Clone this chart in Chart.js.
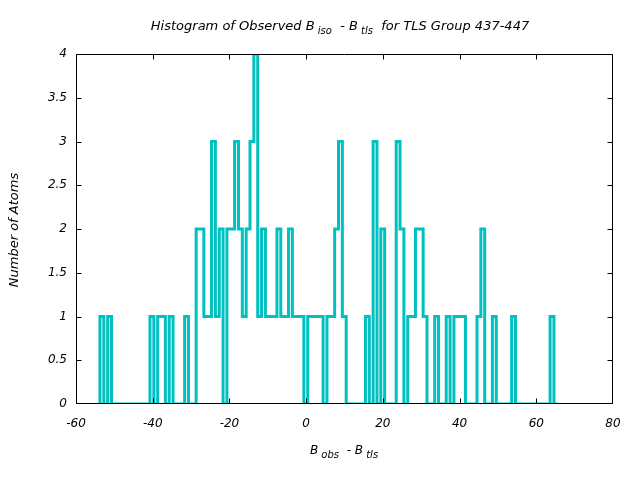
<!DOCTYPE html>
<html>
<head>
<meta charset="utf-8">
<script src="https://cdn.jsdelivr.net/npm/chart.js@4.4.0/dist/chart.umd.min.js"></script>
<style>
  html, body { margin: 0; padding: 0; background: #fff; }
  #wrap { width: 640px; height: 480px; }
</style>
</head>
<body>
<div id="wrap"><canvas id="histChart" width="640" height="480"></canvas></div>
<script>
// histogram of B_iso - B_tls, one count per bin
var binStart = -53.75;
var binWidth = 1.003;
var counts = [
  1,0,1,0,0,0,0,0,0,0,0,0,0,
  1,0,1,1,0,1,0,0,0,1,0,0,
  2,2,1,1,3,1,2,0,2,2,3,2,1,2,3,4,
  1,2,1,1,1,2,1,1,2,1,1,1,
  0,1,1,1,1,0,1,1,2,3,1,
  0,0,0,0,0,1,0,3,0,2,
  0,0,0,3,2,0,1,1,2,2,1,
  0,0,1,0,0,1,0,1,1,1,0,0,0,
  1,2,0,0,1,0,0,0,0,1,
  0,0,0,0,0,0,0,0,0,1,0
];
var xTicks = [-60, -40, -20, 0, 20, 40, 60, 80];
var yTicks = [0, 0.5, 1, 1.5, 2, 2.5, 3, 3.5, 4];

var titleParts = [['Histogram of Observed B', 0], [' iso', 1], ['  - B', 0], [' tls', 1], ['  for TLS Group 437-447', 0]];
var xTitleParts = [['B', 0], [' obs', 1], ['  - B', 0], [' tls', 1]];
var yTitle = 'Number of Atoms';

var FONT = '"DejaVu Sans", sans-serif';

document.addEventListener('DOMContentLoaded', function(){
  var el = document.getElementById('histChart');
  if (!el || !window.Chart) return;

  var pts = [{x: binStart, y: 0}];
  for (var i = 0; i < counts.length; i++) {
    pts.push({x: binStart + i * binWidth, y: counts[i]});
  }
  pts.push({x: binStart + counts.length * binWidth, y: counts[counts.length - 1]});

  function drawParts(ctx, parts, cx, cy, size) {
    var subSize = Math.round(size * 0.8);
    var w = 0, i;
    for (i = 0; i < parts.length; i++) {
      ctx.font = 'italic ' + (parts[i][1] ? subSize : size) + 'px ' + FONT;
      w += ctx.measureText(parts[i][0]).width;
    }
    var x = cx - w / 2;
    ctx.textAlign = 'left';
    ctx.textBaseline = 'middle';
    for (i = 0; i < parts.length; i++) {
      ctx.font = 'italic ' + (parts[i][1] ? subSize : size) + 'px ' + FONT;
      ctx.fillText(parts[i][0], x, cy + (parts[i][1] ? 4 : 0));
      x += ctx.measureText(parts[i][0]).width;
    }
  }

  var frame = {
    id: 'frame',
    afterDatasetsDraw: function(chart) {
      var ctx = chart.ctx, a = chart.chartArea;
      var xs = chart.scales.x, ys = chart.scales.y;
      var L = Math.round(a.left) + 0.5, R = Math.round(a.right) - 0.5;
      var T = Math.round(a.top) + 0.5, B = Math.round(a.bottom) - 0.5;
      ctx.save();
      ctx.strokeStyle = '#000';
      ctx.lineWidth = 1;
      ctx.beginPath();
      ctx.rect(L, T, R - L, B - T);
      xTicks.forEach(function(v){
        var px = Math.min(R, Math.max(L, Math.round(xs.getPixelForValue(v)) + 0.5));
        ctx.moveTo(px, B); ctx.lineTo(px, B - 5);
        ctx.moveTo(px, T); ctx.lineTo(px, T + 5);
      });
      yTicks.forEach(function(v){
        var py = Math.min(B, Math.max(T, Math.round(ys.getPixelForValue(v)) + 0.5));
        ctx.moveTo(L, py); ctx.lineTo(L + 5, py);
        ctx.moveTo(R, py); ctx.lineTo(R - 5, py);
      });
      ctx.stroke();

      ctx.fillStyle = '#000';
      drawParts(ctx, titleParts, 340, 27, 13);
      drawParts(ctx, xTitleParts, 344, 451, 12);
      ctx.translate(15, 230);
      ctx.rotate(-Math.PI / 2);
      ctx.font = 'italic 13px ' + FONT;
      ctx.textAlign = 'center';
      ctx.textBaseline = 'middle';
      ctx.fillText(yTitle, 0, 0);
      ctx.restore();
    }
  };

  new Chart(el, {
    type: 'line',
    data: {
      datasets: [{
        data: pts,
        borderColor: '#00c0c0',
        borderWidth: 3,
        pointRadius: 0,
        stepped: true,
        fill: false,
        clip: 0
      }]
    },
    options: {
      responsive: false,
      animation: false,
      events: [],
      layout: { padding: { left: 0, right: 27, top: 54, bottom: 0 } },
      plugins: { legend: { display: false }, tooltip: { enabled: false } },
      scales: {
        x: {
          type: 'linear', min: -60, max: 80,
          grid: { display: false, drawTicks: false },
          border: { display: false },
          afterFit: function(s){ s.height = 76; },
          ticks: { stepSize: 20, padding: 13, color: '#000', font: { family: FONT, size: 12, style: 'italic' } }
        },
        y: {
          min: 0, max: 4,
          grid: { display: false, drawTicks: false },
          border: { display: false },
          afterFit: function(s){ s.width = 76; },
          ticks: {
            stepSize: 0.5, padding: 9, color: '#000',
            font: { family: FONT, size: 12, style: 'italic' },
            callback: function(v){ return String(v); }
          }
        }
      }
    },
    plugins: [frame]
  });
});
</script>
</body>
</html>
